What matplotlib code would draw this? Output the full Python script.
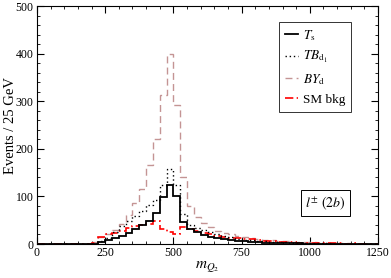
import numpy as np
import matplotlib
matplotlib.use("Agg")
import matplotlib.pyplot as plt
from matplotlib.ticker import MultipleLocator

plt.rcParams['font.family'] = ['Liberation Serif', 'DejaVu Serif']
plt.rcParams['mathtext.fontset'] = 'stix'

# 25 GeV bins from 0 to 1250
edges = np.arange(0, 1251, 25)

ts = [0, 0, 0, 0, 0, 0, 0, 0, 1, 4,
      8, 12, 17, 24, 31, 40, 49, 65, 99, 124,
      100, 46, 32, 25, 19, 15, 12, 10, 8, 7,
      6, 5, 4, 3, 3, 2, 2, 2, 2, 1,
      1, 1, 1, 1, 1, 1, 1, 1, 0, 0]

tb = [0, 0, 0, 0, 0, 0, 0, 0, 1, 6,
      13, 25, 37, 48, 58, 70, 82, 92, 124, 158,
      124, 62, 40, 34, 29, 25, 21, 17, 14, 11,
      9, 8, 7, 6, 5, 4, 4, 3, 3, 2,
      2, 2, 2, 1, 1, 1, 1, 1, 0, 0]

by = [0, 0, 0, 0, 0, 0, 0, 0, 4, 15,
      22, 30, 42, 60, 87, 115, 166, 220, 312, 400,
      292, 141, 80, 57, 45, 36, 28, 24, 20, 17,
      14, 12, 10, 9, 8, 7, 6, 5, 5, 4,
      4, 3, 3, 2, 2, 2, 1, 1, 1, 1]

sm = [0, 0, 0, 0, 0, 0, 0, 1, 3, 14,
      20, 24, 27, 33, 37, 40, 43, 48, 32, 26,
      22, 35, 32, 27, 23, 20, 17, 14, 13, 12,
      11, 10, 8, 7, 6, 5, 4, 4, 3, 3,
      2, 2, 3, 2, 2, 1, 2, 1, 1, 1]

fig = plt.figure(figsize=(3.91, 2.78), dpi=100)
ax = fig.add_axes([0.0946, 0.1223, 0.8722, 0.8561])

ax.stairs(by, edges, baseline=None, color='#c49494', lw=1.0, ls=(0, (5, 3)),
          label=r'$BY_{\rm d}$', zorder=2)
ax.stairs(sm, edges, baseline=None, color='#ff0000', lw=1.2, ls=(0, (5, 2, 1, 2)),
          label='SM bkg', zorder=3)
ax.stairs(tb, edges, baseline=None, color='black', lw=1.0, ls=(0, (1, 2)),
          label=r'$TB_{\rm d_1}$', zorder=4)
ax.stairs(ts, edges, baseline=None, color='black', lw=1.3,
          label=r'$T_{\rm s}$', zorder=5)

ax.set_xlim(0, 1250)
ax.set_ylim(0, 500)
ax.xaxis.set_major_locator(MultipleLocator(250))
ax.xaxis.set_minor_locator(MultipleLocator(50))
ax.yaxis.set_major_locator(MultipleLocator(100))
ax.yaxis.set_minor_locator(MultipleLocator(20))
ax.tick_params(which='both', direction='in', top=True, right=True, labelsize=8.5)
ax.tick_params(which='major', length=5, width=0.8, pad=2.5)
ax.tick_params(which='minor', length=2.5, width=0.6)
for s in ax.spines.values():
    s.set_linewidth(0.8)

ax.set_ylabel('Events / 25 GeV', fontsize=10.5)
ax.yaxis.set_label_coords(-0.059, 0.5)
ax.set_xlabel(r'$m_{Q_2}$', fontsize=11, labelpad=0)

h, l = ax.get_legend_handles_labels()
order = [3, 2, 0, 1]
leg = ax.legend([h[i] for i in order], [l[i] for i in order],
                loc='upper left', bbox_to_anchor=(0.710, 0.933), borderaxespad=0,
                fontsize=9.5, frameon=True, fancybox=False, edgecolor='black',
                handlelength=1.0, handletextpad=0.35, labelspacing=0.5,
                borderpad=0.45)
leg.get_frame().set_linewidth(0.7)

ax.text(0.845, 0.172, r'$l^{\pm}$ $(2b)$', transform=ax.transAxes, fontsize=10,
        ha='center', va='center',
        bbox=dict(boxstyle='square,pad=0.3', fc='white', ec='black', lw=0.7))

fig.savefig('out.png', dpi=100)
